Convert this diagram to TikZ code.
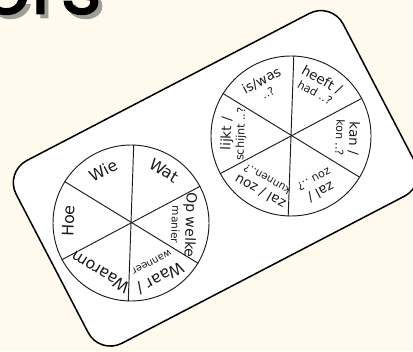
\documentclass[tikz,border=0pt]{standalone}
\usepackage{fontspec}
\setmainfont{DejaVu Sans}
\newfontfamily\titlefont{Poppins}[FakeBold=1.2]
\usepackage{tikz}
\definecolor{slidecream}{RGB}{255,250,237}
\definecolor{shadowgray}{RGB}{158,158,150}
\definecolor{inkdark}{RGB}{28,28,28}
\newcommand{\innerline}[2][9.5]{{\fontsize{#1}{#1}\selectfont #2}}

\begin{document}
\begin{tikzpicture}[
  card/.style={rectangle, draw=black, fill=white, line width=1.3pt, rounded corners=0.75cm,
               minimum width=11.06cm, minimum height=6.18cm},
  wheel/.style={circle, draw=inkdark, line width=0.8pt, minimum size=#1, inner sep=0pt},
  spoke/.style={draw=inkdark, line width=0.8pt},
  bigword/.style={font=\fontsize{13.5}{13}\selectfont, text=inkdark, align=center, inner sep=0pt},
  pairword/.style={font=\fontsize{11.5}{11.5}\selectfont, text=inkdark, align=center, inner sep=0pt},
  titletext/.style={font=\titlefont\fontsize{68}{68}\selectfont, text=#1, anchor=base west, inner sep=0pt},
]
  \useasboundingbox (0,0) rectangle (12.39,10.53);
  \clip (0,0) rectangle (12.39,10.53);
  \fill[slidecream] (0,0) rectangle (12.39,10.53);

  % Title (cut off at the top)
  \node[titletext=shadowgray] (titleshadow) at (-0.45,9.99) {ers};
  \node[titletext=black] (title) at (-0.57,10.11) {ers};

  % Card
  \node[card, rotate=27.5] (card) at (6.47,5.18) {};

  % Wheels
  \node[wheel=4.68cm] (lwheel) at (3.93,3.84) {};
  \node[wheel=4.80cm] (rwheel) at (8.73,6.45) {};
  \foreach \a in {88.5,28.5,-31.5} {
    \draw[spoke] (lwheel.\a) -- (lwheel.\a+180);
    \draw[spoke] (rwheel.\a) -- (rwheel.\a+180);
  }

  % Left wheel labels
  \node[bigword, rotate=28]   (wie)     at ([shift={(118:1.78)}]lwheel.center) {Wie};
  \node[bigword, rotate=-32]  (wat)     at ([shift={(58:1.86)}]lwheel.center) {Wat};
  \node[bigword, rotate=88]   (hoe)     at ([shift={(178:1.88)}]lwheel.center) {Hoe};
  \node[bigword, rotate=-92, font=\fontsize{12}{12}\selectfont] (opwelke)
    at ([shift={(-2:1.59)}]lwheel.center) {Op welke\\\innerline[9]{manier}};
  \node[bigword, rotate=-152] (waar)    at ([shift={(-62:1.64)}]lwheel.center)
    {Waar /\\\innerline[8.5]{wanneer}};
  \node[bigword, rotate=148]  (waarom)  at ([shift={(-122:1.74)}]lwheel.center) {Waarom};

  % Right wheel labels
  \node[pairword, rotate=28]   (iswas)  at ([shift={(118:1.70)}]rwheel.center) {is/was\\\innerline{..?}};
  \node[pairword, rotate=-29]  (heeft)  at ([shift={(61:1.72)}]rwheel.center) {heeft /\\\innerline{had ..?}};
  \node[pairword, rotate=-92]  (kan)    at ([shift={(-2:1.70)}]rwheel.center) {kan /\\\innerline{kon ..?}};
  \node[pairword, rotate=-152] (zal)    at ([shift={(-62:1.72)}]rwheel.center) {zal /\\\innerline{zou ..?}};
  \node[pairword, rotate=151]  (zalzou) at ([shift={(-119:1.72)}]rwheel.center)
    {zal / zou\\\innerline[9]{kunnen..?}};
  \node[pairword, rotate=88]   (lijkt)  at ([shift={(178:1.72)}]rwheel.center) {lijkt /\\\innerline{schijnt ..?}};
\end{tikzpicture}
\end{document}
